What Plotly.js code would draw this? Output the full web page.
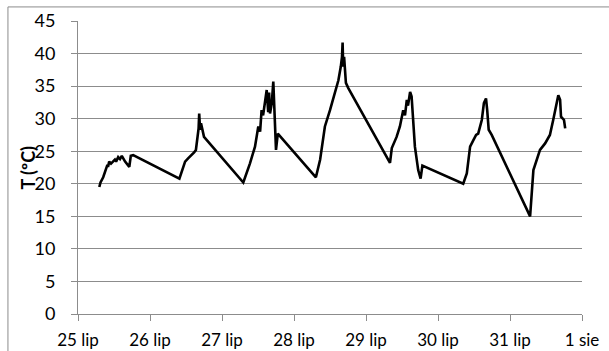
<!DOCTYPE html>
<html>
<head>
<meta charset="utf-8">
<script src="https://cdn.plot.ly/plotly-3.0.1.min.js"></script>
<style>html,body{margin:0;padding:0;background:#fff;}#chart{width:609px;height:351px;}</style>
</head>
<body>
<div id="chart"></div>
<script>
// Measurement times (July 2013, Polish locale labels)
const times = [
  "2013-07-25 07:06","2013-07-25 07:30","2013-07-25 08:24","2013-07-25 09:00","2013-07-25 09:48",
  "2013-07-25 10:00","2013-07-25 10:24","2013-07-25 11:00","2013-07-25 11:48","2013-07-25 12:18",
  "2013-07-25 12:42","2013-07-25 13:24","2013-07-25 14:00","2013-07-25 14:36","2013-07-25 15:42",
  "2013-07-25 16:24","2013-07-25 17:06","2013-07-25 17:36","2013-07-25 18:24",
  "2013-07-26 09:48","2013-07-26 11:42","2013-07-26 12:42","2013-07-26 13:54","2013-07-26 14:42",
  "2013-07-26 15:18","2013-07-26 15:48","2013-07-26 16:12","2013-07-26 16:24","2013-07-26 16:42",
  "2013-07-26 17:00","2013-07-26 17:12","2013-07-26 17:48","2013-07-26 18:00",
  "2013-07-27 07:06","2013-07-27 09:18","2013-07-27 11:00","2013-07-27 12:06","2013-07-27 12:42",
  "2013-07-27 13:12","2013-07-27 13:42","2013-07-27 14:18","2013-07-27 14:54","2013-07-27 15:24",
  "2013-07-27 15:42","2013-07-27 16:00","2013-07-27 16:36","2013-07-27 17:06","2013-07-27 17:24",
  "2013-07-27 18:00","2013-07-27 18:36",
  "2013-07-28 07:18","2013-07-28 08:42","2013-07-28 10:18","2013-07-28 12:00","2013-07-28 13:42",
  "2013-07-28 14:48","2013-07-28 15:36","2013-07-28 16:00","2013-07-28 16:12","2013-07-28 16:24",
  "2013-07-28 16:42","2013-07-28 17:00","2013-07-28 17:18","2013-07-28 18:06",
  "2013-07-29 08:00","2013-07-29 08:36","2013-07-29 10:12","2013-07-29 11:18","2013-07-29 12:24",
  "2013-07-29 13:00","2013-07-29 13:36","2013-07-29 14:00","2013-07-29 14:42","2013-07-29 15:12",
  "2013-07-29 15:48","2013-07-29 16:18","2013-07-29 17:24","2013-07-29 18:12","2013-07-29 18:48",
  "2013-07-30 08:24","2013-07-30 09:36","2013-07-30 10:42","2013-07-30 11:48","2013-07-30 12:42",
  "2013-07-30 13:24","2013-07-30 14:36","2013-07-30 15:18","2013-07-30 16:00","2013-07-30 16:24",
  "2013-07-30 16:54","2013-07-30 17:54",
  "2013-07-31 06:42","2013-07-31 07:48","2013-07-31 08:54","2013-07-31 10:00","2013-07-31 11:42",
  "2013-07-31 13:18","2013-07-31 14:24","2013-07-31 15:36","2013-07-31 16:06","2013-07-31 16:42",
  "2013-07-31 17:00","2013-07-31 18:00","2013-07-31 18:24"
];
const temps = [
  19.5,20.2,21.0,21.8,22.9,
  22.6,23.4,23.1,23.5,23.7,
  23.4,24.1,23.8,24.3,23.4,
  23.0,22.6,24.3,24.4,
  20.8,23.4,23.9,24.4,24.8,
  25.2,26.7,28.5,30.8,28.3,
  29.3,28.8,27.7,27.2,
  20.2,23.1,25.7,28.8,28.0,
  31.3,30.5,32.9,34.4,31.0,
  34.0,30.8,32.4,35.7,31.8,
  25.2,27.7,
  21.0,23.7,28.8,31.3,33.9,
  35.9,38.0,39.5,41.7,38.0,
  39.5,36.4,35.5,34.7,
  23.2,25.5,27.2,28.8,31.3,
  30.5,32.9,32.0,34.1,33.4,
  29.8,25.7,22.1,20.8,22.8,
  20.0,21.6,25.7,26.7,27.5,
  27.7,29.8,32.4,33.1,31.3,
  28.3,27.5,
  15.0,22.1,23.7,25.2,26.2,
  27.5,29.8,32.9,33.6,32.9,
  30.3,29.8,28.5
];
const tickDates = ["2013-07-25","2013-07-26","2013-07-27","2013-07-28","2013-07-29","2013-07-30","2013-07-31","2013-08-01"];
const tickLabels = ["25 lip","26 lip","27 lip","28 lip","29 lip","30 lip","31 lip","1 sie"];
const yTicks = [0,5,10,15,20,25,30,35,40,45];
const yTitle = "T (ºC)";

const font = "Lato, 'Open Sans', sans-serif";
const grid = "#8c8c8c";

const data = [{
  type: "scatter", mode: "lines", x: times, y: temps,
  line: {color: "#000", width: 2.6}, hoverinfo: "skip"
}];

const layout = {
  width: 609, height: 351,
  margin: {l: 78, r: 27, t: 21, b: 37},
  paper_bgcolor: "#fff", plot_bgcolor: "#fff",
  showlegend: false,
  font: {family: font, size: 17, color: "#000"},
  xaxis: {
    type: "date", range: ["2013-07-25", "2013-08-01"],
    tickmode: "array", tickvals: tickDates, ticktext: tickLabels,
    showgrid: false, zeroline: false,
    showline: true, linecolor: grid, linewidth: 1,
    ticks: "outside", ticklen: 6, tickcolor: grid,
    ticklabelstandoff: 5,
    tickfont: {family: font, size: 17, color: "#000"}
  },
  yaxis: {
    range: [0, 45], tickmode: "array", tickvals: yTicks,
    showgrid: true, gridcolor: grid, gridwidth: 1, zeroline: false,
    showline: true, linecolor: grid, linewidth: 1,
    ticks: "outside", ticklen: 6, tickcolor: grid,
    ticklabelstandoff: 12,
    tickfont: {family: font, size: 18, color: "#000"}
  },
  annotations: [{
    text: "<b>" + yTitle + "</b>", xref: "paper", yref: "paper",
    x: -0.101, y: 0.5, xanchor: "center", yanchor: "middle",
    textangle: -90, showarrow: false,
    font: {family: font, size: 18, color: "#000"}
  }],
  shapes: [{
    type: "rect", xref: "paper", yref: "paper",
    x0: -0.139, x1: 1.5, y0: 1.048, y1: -0.5,
    line: {color: "#8c8c8c", width: 1}, fillcolor: "rgba(0,0,0,0)", layer: "below"
  }]
};

Plotly.newPlot("chart", data, layout, {staticPlot: true, displayModeBar: false});
</script>
</body>
</html>
